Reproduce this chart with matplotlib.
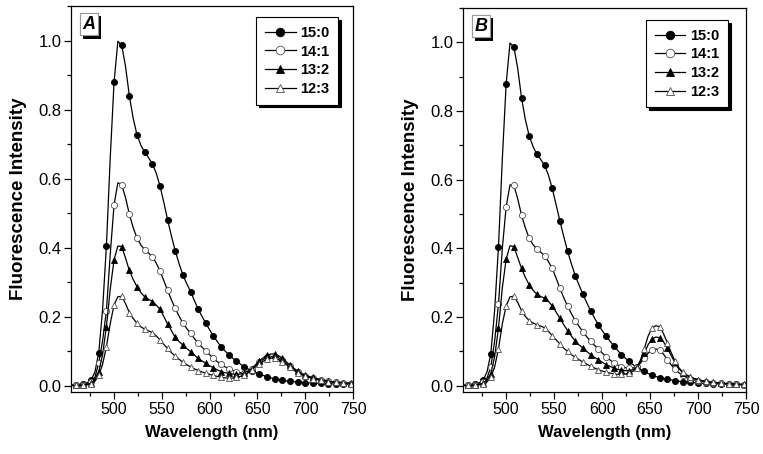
import matplotlib
matplotlib.use('Agg')
import matplotlib.pyplot as plt
import matplotlib.patheffects as pe
from matplotlib.ticker import MultipleLocator, FormatStrFormatter

plt.rcParams['font.family'] = ['Liberation Sans', 'DejaVu Sans']

# wavelength grid (nm), markers on every second point
wavelength = list(range(456, 749, 4))

labels = ['15:0', '14:1', '13:2', '12:3']

# panel A
a_15_0 = [0.002, 0.002, 0.003, 0.005, 0.009, 0.017, 0.040, 0.096, 0.220, 0.405,
          0.660, 0.879, 0.998, 0.986, 0.925, 0.840, 0.775, 0.727, 0.697, 0.676,
          0.661, 0.643, 0.617, 0.579, 0.532, 0.481, 0.434, 0.391, 0.354, 0.321,
          0.296, 0.273, 0.247, 0.222, 0.201, 0.181, 0.162, 0.144, 0.128, 0.113,
          0.101, 0.090, 0.080, 0.072, 0.063, 0.055, 0.049, 0.044, 0.039, 0.034,
          0.030, 0.026, 0.023, 0.020, 0.018, 0.016, 0.014, 0.013, 0.012, 0.011,
          0.010, 0.009, 0.0085, 0.008, 0.0075, 0.007, 0.0065, 0.006, 0.0055, 0.005,
          0.005, 0.005, 0.0045, 0.004]
a_14_1 = [0.001, 0.001, 0.002, 0.003, 0.005, 0.010, 0.025, 0.066, 0.130, 0.217,
          0.380, 0.524, 0.588, 0.582, 0.545, 0.497, 0.458, 0.428, 0.408, 0.394,
          0.385, 0.374, 0.356, 0.333, 0.305, 0.276, 0.249, 0.224, 0.202, 0.181,
          0.166, 0.152, 0.137, 0.123, 0.112, 0.101, 0.090, 0.079, 0.070, 0.062,
          0.055, 0.050, 0.045, 0.041, 0.038, 0.038, 0.041, 0.048, 0.058, 0.068,
          0.076, 0.082, 0.085, 0.084, 0.081, 0.074, 0.065, 0.056, 0.048, 0.040,
          0.034, 0.029, 0.025, 0.022, 0.019, 0.017, 0.015, 0.013, 0.011, 0.010,
          0.009, 0.008, 0.007, 0.006]
a_13_2 = [0.001, 0.001, 0.002, 0.003, 0.004, 0.008, 0.018, 0.041, 0.090, 0.171,
          0.280, 0.365, 0.405, 0.403, 0.370, 0.334, 0.308, 0.287, 0.270, 0.258,
          0.251, 0.244, 0.234, 0.222, 0.201, 0.179, 0.160, 0.140, 0.128, 0.118,
          0.108, 0.099, 0.089, 0.079, 0.072, 0.065, 0.058, 0.052, 0.046, 0.041,
          0.038, 0.036, 0.034, 0.033, 0.034, 0.037, 0.043, 0.050, 0.061, 0.072,
          0.081, 0.088, 0.092, 0.092, 0.087, 0.080, 0.070, 0.060, 0.051, 0.043,
          0.036, 0.031, 0.027, 0.024, 0.021, 0.018, 0.016, 0.014, 0.012, 0.011,
          0.010, 0.009, 0.008, 0.007]
a_12_3 = [0.001, 0.001, 0.001, 0.002, 0.003, 0.005, 0.013, 0.030, 0.062, 0.113,
          0.180, 0.234, 0.258, 0.259, 0.238, 0.212, 0.195, 0.181, 0.171, 0.164,
          0.159, 0.154, 0.145, 0.133, 0.120, 0.108, 0.096, 0.086, 0.077, 0.068,
          0.061, 0.055, 0.049, 0.044, 0.040, 0.036, 0.033, 0.030, 0.027, 0.025,
          0.023, 0.022, 0.022, 0.024, 0.027, 0.031, 0.037, 0.046, 0.055, 0.064,
          0.071, 0.077, 0.080, 0.080, 0.076, 0.070, 0.062, 0.053, 0.045, 0.038,
          0.032, 0.028, 0.024, 0.021, 0.018, 0.016, 0.014, 0.012, 0.011, 0.010,
          0.009, 0.008, 0.007, 0.006]

# panel B
b_15_0 = [0.002, 0.002, 0.003, 0.005, 0.009, 0.017, 0.040, 0.093, 0.220, 0.405,
          0.660, 0.880, 0.998, 0.987, 0.925, 0.839, 0.775, 0.728, 0.697, 0.674,
          0.659, 0.642, 0.614, 0.575, 0.528, 0.480, 0.435, 0.392, 0.355, 0.321,
          0.293, 0.267, 0.242, 0.219, 0.198, 0.178, 0.161, 0.146, 0.131, 0.117,
          0.104, 0.091, 0.081, 0.071, 0.062, 0.054, 0.048, 0.042, 0.036, 0.031,
          0.027, 0.024, 0.021, 0.019, 0.017, 0.015, 0.013, 0.012, 0.011, 0.010,
          0.009, 0.008, 0.0075, 0.007, 0.0065, 0.006, 0.0055, 0.005, 0.0048, 0.0045,
          0.004, 0.004, 0.0035, 0.003]
b_14_1 = [0.001, 0.001, 0.002, 0.003, 0.005, 0.010, 0.022, 0.055, 0.130, 0.238,
          0.400, 0.521, 0.585, 0.584, 0.545, 0.497, 0.460, 0.430, 0.411, 0.398,
          0.389, 0.379, 0.362, 0.342, 0.314, 0.284, 0.257, 0.232, 0.210, 0.190,
          0.173, 0.158, 0.143, 0.129, 0.118, 0.108, 0.096, 0.085, 0.076, 0.067,
          0.061, 0.056, 0.053, 0.051, 0.052, 0.056, 0.066, 0.080, 0.095, 0.105,
          0.107, 0.104, 0.092, 0.076, 0.061, 0.048, 0.038, 0.030, 0.024, 0.020,
          0.017, 0.015, 0.013, 0.011, 0.010, 0.009, 0.008, 0.007, 0.006, 0.005,
          0.005, 0.004, 0.004, 0.003]
b_13_2 = [0.001, 0.001, 0.002, 0.003, 0.004, 0.008, 0.016, 0.035, 0.085, 0.168,
          0.285, 0.369, 0.408, 0.405, 0.374, 0.342, 0.316, 0.294, 0.278, 0.267,
          0.260, 0.255, 0.246, 0.233, 0.215, 0.197, 0.178, 0.161, 0.145, 0.130,
          0.119, 0.110, 0.100, 0.091, 0.083, 0.076, 0.069, 0.062, 0.057, 0.052,
          0.048, 0.045, 0.044, 0.044, 0.047, 0.054, 0.070, 0.095, 0.120, 0.136,
          0.142, 0.140, 0.128, 0.110, 0.088, 0.068, 0.050, 0.038, 0.030, 0.025,
          0.021, 0.018, 0.015, 0.013, 0.011, 0.010, 0.009, 0.008, 0.007, 0.006,
          0.005, 0.005, 0.004, 0.004]
b_12_3 = [0.001, 0.001, 0.001, 0.002, 0.003, 0.005, 0.011, 0.025, 0.055, 0.108,
          0.180, 0.233, 0.259, 0.261, 0.243, 0.219, 0.202, 0.190, 0.183, 0.178,
          0.174, 0.169, 0.159, 0.146, 0.134, 0.122, 0.110, 0.100, 0.091, 0.083,
          0.076, 0.069, 0.063, 0.057, 0.052, 0.047, 0.043, 0.040, 0.037, 0.035,
          0.033, 0.033, 0.034, 0.037, 0.042, 0.052, 0.075, 0.108, 0.145, 0.168,
          0.175, 0.172, 0.152, 0.125, 0.097, 0.072, 0.053, 0.040, 0.032, 0.026,
          0.021, 0.018, 0.015, 0.013, 0.011, 0.010, 0.009, 0.008, 0.007, 0.006,
          0.005, 0.005, 0.004, 0.004]

panels = [
    ('A', [a_15_0, a_14_1, a_13_2, a_12_3], (0.947, 0.971)),
    ('B', [b_15_0, b_14_1, b_13_2, b_12_3], (0.936, 0.969)),
]

styles = [
    dict(marker='o', mfc='black', mec='black'),
    dict(marker='o', mfc='white', mec='0.3'),
    dict(marker='^', mfc='black', mec='black'),
    dict(marker='^', mfc='white', mec='0.3'),
]

fig = plt.figure(figsize=(7.63, 4.54), dpi=100)
ax_a = fig.add_axes([0.0931, 0.1366, 0.3696, 0.8502])
ax_b = fig.add_axes([0.6068, 0.1366, 0.3709, 0.8458])

for ax, (tag, series, leg_pos) in zip([ax_a, ax_b], panels):
    for y, lab, st in zip(series, labels, styles):
        ax.plot(wavelength, y, color='black', lw=0.9, markersize=4.4,
                markeredgewidth=0.6, markevery=(1, 2), label=lab, **st)

    ax.set_xlim(455, 750)
    ax.set_ylim(-0.018, 1.10)
    ax.xaxis.set_major_locator(MultipleLocator(50))
    ax.xaxis.set_minor_locator(MultipleLocator(25))
    ax.yaxis.set_major_locator(MultipleLocator(0.2))
    ax.yaxis.set_minor_locator(MultipleLocator(0.1))
    ax.yaxis.set_major_formatter(FormatStrFormatter('%.1f'))
    ax.tick_params(which='major', direction='out', length=5, width=0.9)
    ax.tick_params(which='minor', direction='out', length=3, width=0.9)
    ax.tick_params(axis='x', labelsize=11.5, pad=2)
    ax.tick_params(axis='y', labelsize=12, pad=2)
    for sp in ax.spines.values():
        sp.set_linewidth(0.9)

    ax.set_xlabel('Wavelength (nm)', fontsize=12, fontweight='bold', labelpad=6)
    ax.set_ylabel('Fluorescence Intensity', fontsize=13.5, fontweight='bold', labelpad=8)

    leg = ax.legend(loc='upper right', bbox_to_anchor=leg_pos, borderaxespad=0,
                    fancybox=False, edgecolor='black', framealpha=1,
                    handlelength=2.1, labelspacing=0.32, borderpad=0.6,
                    handletextpad=0.3, markerscale=1.4,
                    prop={'weight': 'bold', 'size': 10.5},
                    shadow={'color': 'black', 'alpha': 1})
    leg.get_frame().set_linewidth(0.8)

    t = ax.text(0.04, 0.975, tag, transform=ax.transAxes, ha='left', va='top',
                fontsize=13, fontweight='bold', fontstyle='italic',
                bbox=dict(boxstyle='square,pad=0.15', fc='white', ec='0.6', lw=0.8))
    t.get_bbox_patch().set_path_effects([
        pe.withSimplePatchShadow(offset=(2.5, -2.5), shadow_rgbFace='black', alpha=1),
        pe.Normal()])

fig.savefig('out.png', dpi=100)
